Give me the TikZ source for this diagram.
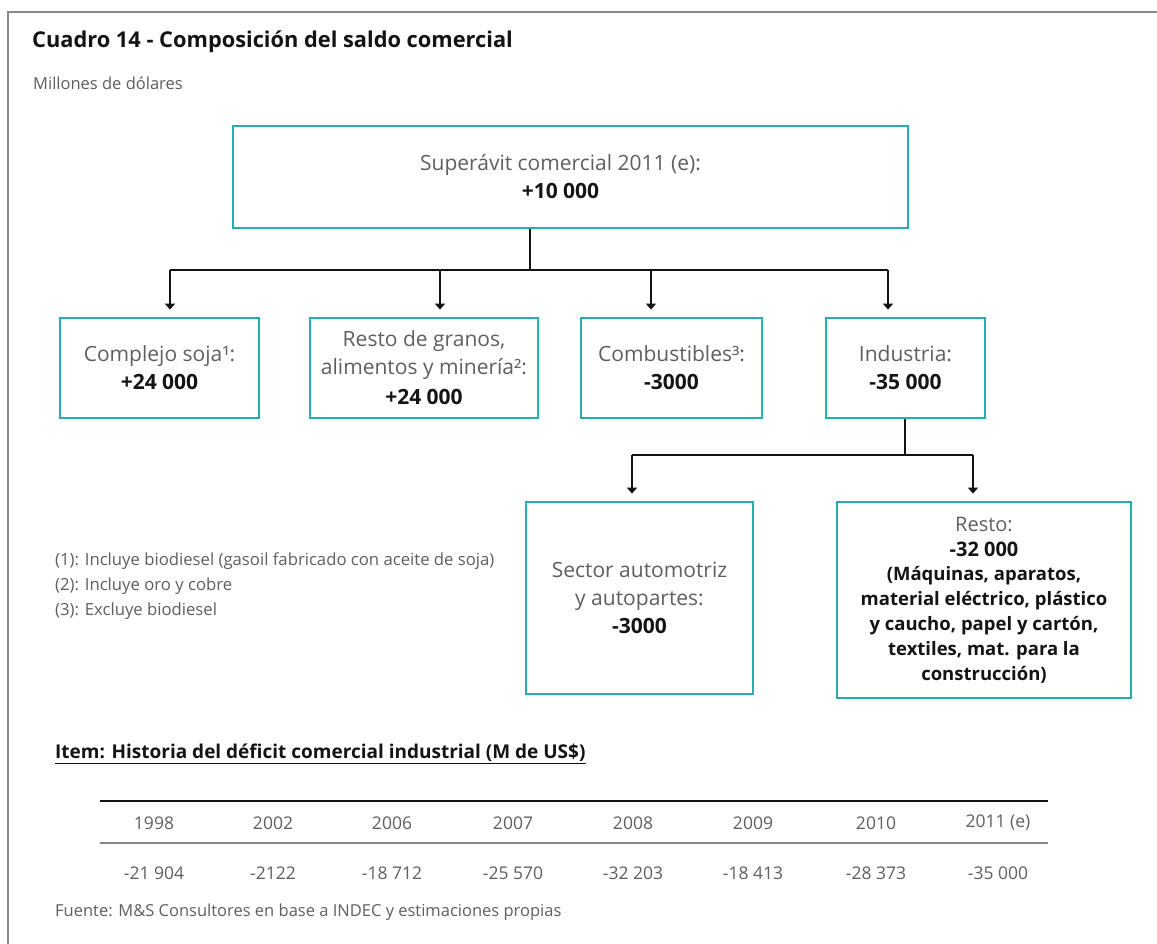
\documentclass[tikz,border=0pt]{standalone}
\usepackage{fontspec}
\setmainfont{Open Sans}
\usetikzlibrary{arrows.meta}
\definecolor{tealb}{RGB}{38,176,172}
\definecolor{txtgray}{RGB}{95,95,95}
\definecolor{framegray}{RGB}{135,135,135}
\definecolor{bk}{RGB}{20,20,20}
\newcommand\rline[1]{\textcolor{bk}{\bfseries\fontsize{18.5}{25}\selectfont #1}}
\begin{document}
\begin{tikzpicture}[x=1pt,y=-1pt,
  box/.style={draw=tealb, line width=2.8pt, align=center, inner sep=0pt, text=txtgray,
    font=\fontsize{21}{28}\selectfont},
  conn/.style={line width=2.6pt, draw=bk},
  arr/.style={conn, -{Triangle[length=6pt,width=10pt]}, shorten >=7pt},
  plain/.style={inner sep=0pt, text=txtgray},
  yr/.style={plain, font=\fontsize{17.5}{20}\selectfont}
]
\useasboundingbox (0,0) rectangle (1157,944);
\fill[white] (0,0) rectangle (1157,944);
% frame
\draw[framegray, line width=2.6pt] (8,944) -- (8,12) -- (1160,12);

% title
\node[plain, anchor=west, text=bk, font=\bfseries\fontsize{21.8}{24}\selectfont] (title) at (32,42) {Cuadro 14 - Composición del saldo comercial};
\node[plain, anchor=west, font=\fontsize{16.5}{19}\selectfont] (unit) at (33,83) {Millones de dólares};

% boxes
\node[box, minimum width=675, minimum height=102] (top) at (570.5,177) {Superávit comercial 2011 (e):\hspace*{20pt}\\ \textcolor{bk}{\bfseries +10 000}\hspace*{20pt}};
\node[box, minimum width=199, minimum height=100] (b1) at (159.5,368) {Complejo soja¹:\\ \textcolor{bk}{\bfseries +24 000}};
\node[box, minimum width=228, minimum height=100] (b2) at (424,368) {Resto de granos,\\ alimentos y minería²:\\[2pt] \textcolor{bk}{\bfseries +24 000}};
\node[box, minimum width=181, minimum height=100] (b3) at (671.5,368) {Combustibles³:\\ \textcolor{bk}{\bfseries -3000}};
\node[box, minimum width=159, minimum height=100] (b4) at (905.5,368) {Industria:\\ \textcolor{bk}{\bfseries -35 000}};
\node[box, minimum width=227, minimum height=192] (b5) at (639.5,598) {Sector automotriz\\ y autopartes:\\ \textcolor{bk}{\bfseries -3000}};
\node[box, minimum width=294, minimum height=196, font=\fontsize{20}{27}\selectfont] (b6) at (984,600) {Resto:\\[-2pt] \textcolor{bk}{\bfseries -32 000}\\[-3pt] \rline{(Máquinas, aparatos,}\\[-2pt] \rline{material eléctrico, plástico}\\[-2pt] \rline{y caucho, papel y cartón,}\\[-2pt] \rline{textiles, mat. para la}\\[-2pt] \rline{construcción)}};

% connectors
\coordinate (j0) at (530,270);
\coordinate (j1) at (170,270);
\coordinate (j2) at (440,270);
\coordinate (j3) at (651,270);
\coordinate (j4) at (888,270);
\draw[conn] (top.south -| j0) -- (j0);
\draw[conn] (j1) -- (j4);
\draw[arr] (j1) -- (j1 |- b1.north);
\draw[arr] (j2) -- (j2 |- b2.north);
\draw[arr] (j3) -- (j3 |- b3.north);
\draw[arr] (j4) -- (j4 |- b4.north);
\coordinate (k0) at (905,455);
\coordinate (k1) at (632,455);
\coordinate (k2) at (973,455);
\draw[conn] (b4.south -| k0) -- (k0);
\draw[conn] (k1) -- (k2);
\draw[arr] (k1) -- (k1 |- b5.north);
\draw[arr] (k2) -- (k2 |- b6.north);

% footnotes
\node[plain, anchor=west, font=\fontsize{16.7}{19}\selectfont] (f1) at (55,561) {(1): Incluye biodiesel (gasoil fabricado con aceite de soja)};
\node[plain, anchor=west, font=\fontsize{16.7}{19}\selectfont] (f2) at (55,586) {(2): Incluye oro y cobre};
\node[plain, anchor=west, font=\fontsize{16.7}{19}\selectfont] (f3) at (55,611) {(3): Excluye biodiesel};

% item heading
\node[plain, anchor=west, text=bk, font=\bfseries\fontsize{19}{22}\selectfont] (item) at (55,754) {\underline{Item: Historia del déficit comercial industrial (M de US\$)}};

% table
\draw[bk, line width=2.4pt] (100,801) -- (1048,801);
\draw[framegray, line width=1.6pt] (100,843) -- (1048,843);
\foreach \n/\x/\yy/\vv in {1/154/1998/-21 904, 2/273/2002/-2122, 3/392/2006/-18 712, 4/513/2007/-25 570, 5/633/2008/-32 203, 6/753/2009/-18 413, 7/876/2010/-28 373, 8/998/2011 (e)/-35 000}{
  \node[yr] (h\n) at (\x,823) {\yy};
  \node[yr] (v\n) at (\x,873) {\vv};
}
\node[plain, anchor=west, font=\fontsize{16.5}{19}\selectfont] (src) at (55,912) {Fuente: M\&S Consultores en base a INDEC y estimaciones propias};
\end{tikzpicture}
\end{document}
